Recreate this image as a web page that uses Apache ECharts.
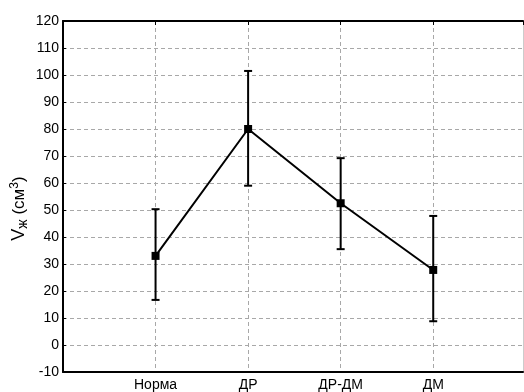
<!DOCTYPE html>
<html><head><meta charset="utf-8">
<script src="https://cdn.jsdelivr.net/npm/echarts@6/dist/echarts.min.js"></script>
<style>html,body{margin:0;padding:0;background:#fff}#c{width:524px;height:392px}</style>
</head><body><div id="c"></div>
<script>
const categories = ['Норма', 'ДР', 'ДР-ДМ', 'ДМ'];
const meanValues = [33, 80, 52.5, 27.8];
const lowerValues = [16.7, 59, 35.5, 8.8];
const upperValues = [50.3, 101.5, 69.2, 47.8];
const yTicks = [-10, 0, 10, 20, 30, 40, 50, 60, 70, 80, 90, 100, 110, 120];

const font = 'Liberation Sans, Arial, sans-serif';
const chart = echarts.init(document.getElementById('c'), null, {renderer: 'canvas'});
const lineData = categories.map((c, i) => [i + 1, meanValues[i]]);
const errData = categories.map((c, i) => [i + 1, lowerValues[i], upperValues[i]]);

chart.setOption({
  animation: false,
  grid: {left: 63, right: 1, top: 21, bottom: 20, containLabel: false, outerBoundsMode: 'none'},
  xAxis: [{
    type: 'value', min: 0, max: 4.97, interval: 1,
    axisLine: {show: true, onZero: false, lineStyle: {color: '#000', width: 2}},
    axisTick: {show: false},
    axisLabel: {margin: 6, fontFamily: font, fontSize: 14, color: '#000',
      formatter: v => (v >= 1 && v <= categories.length && Number.isInteger(v)) ? categories[v - 1] : ''},
    splitLine: {show: true, lineStyle: {type: [4, 3], color: '#a8a8a8', width: 1}}
  }, {
    type: 'value', position: 'top', min: 0, max: 4.97, interval: 1,
    axisLine: {show: true, onZero: false, lineStyle: {color: '#000', width: 2}},
    axisTick: {show: true, inside: true, length: 4, lineStyle: {color: '#000'}},
    axisLabel: {show: false}, splitLine: {show: false}
  }],
  yAxis: [{
    type: 'value', min: -10, max: 120, interval: 10,
    axisLine: {show: true, onZero: false, lineStyle: {color: '#000', width: 2}},
    axisTick: {show: true, inside: true, length: 3, lineStyle: {color: '#000'}},
    axisLabel: {margin: 4, fontFamily: font, fontSize: 14, color: '#000',
      formatter: v => yTicks.includes(v) ? String(v) : ''},
    splitLine: {show: true, lineStyle: {type: [4, 3], color: '#a8a8a8', width: 1}},
    name: '{i|V}{s|ж} (см{p|3})', nameLocation: 'middle', nameGap: 33, nameRotate: 90,
    nameMoveOverlap: false,
    nameTextStyle: {fontFamily: font, fontSize: 17, color: '#000', padding: [0, 24, 0, 0],
      rich: {
        i: {fontFamily: font, fontSize: 18, color: '#000'},
        s: {fontFamily: font, fontSize: 14, color: '#000', verticalAlign: 'bottom', padding: [7, 0, 0, 0]},
        p: {fontFamily: font, fontSize: 12, color: '#000', verticalAlign: 'top', padding: [0, 0, 8, 0]}
      }}
  }, {
    type: 'value', position: 'right', min: -10, max: 120, interval: 10,
    axisLine: {show: true, onZero: false, lineStyle: {color: '#ccc', width: 1}},
    axisTick: {show: false}, axisLabel: {show: false}, splitLine: {show: false}
  }],
  series: [{
    type: 'custom',
    data: errData,
    renderItem: (params, api) => {
      const x = api.value(0);
      const lo = api.coord([x, api.value(1)]);
      const hi = api.coord([x, api.value(2)]);
      const hw = 4;
      const st = {stroke: '#000', lineWidth: 2};
      return {type: 'group', children: [
        {type: 'line', shape: {x1: lo[0], y1: lo[1], x2: hi[0], y2: hi[1]}, style: st},
        {type: 'line', shape: {x1: lo[0] - hw, y1: lo[1], x2: lo[0] + hw, y2: lo[1]}, style: st},
        {type: 'line', shape: {x1: hi[0] - hw, y1: hi[1], x2: hi[0] + hw, y2: hi[1]}, style: st}
      ]};
    },
    z: 3
  }, {
    type: 'line',
    data: lineData,
    symbol: 'rect', symbolSize: 8,
    lineStyle: {color: '#000', width: 2},
    itemStyle: {color: '#000'},
    z: 4
  }]
});
</script></body></html>
